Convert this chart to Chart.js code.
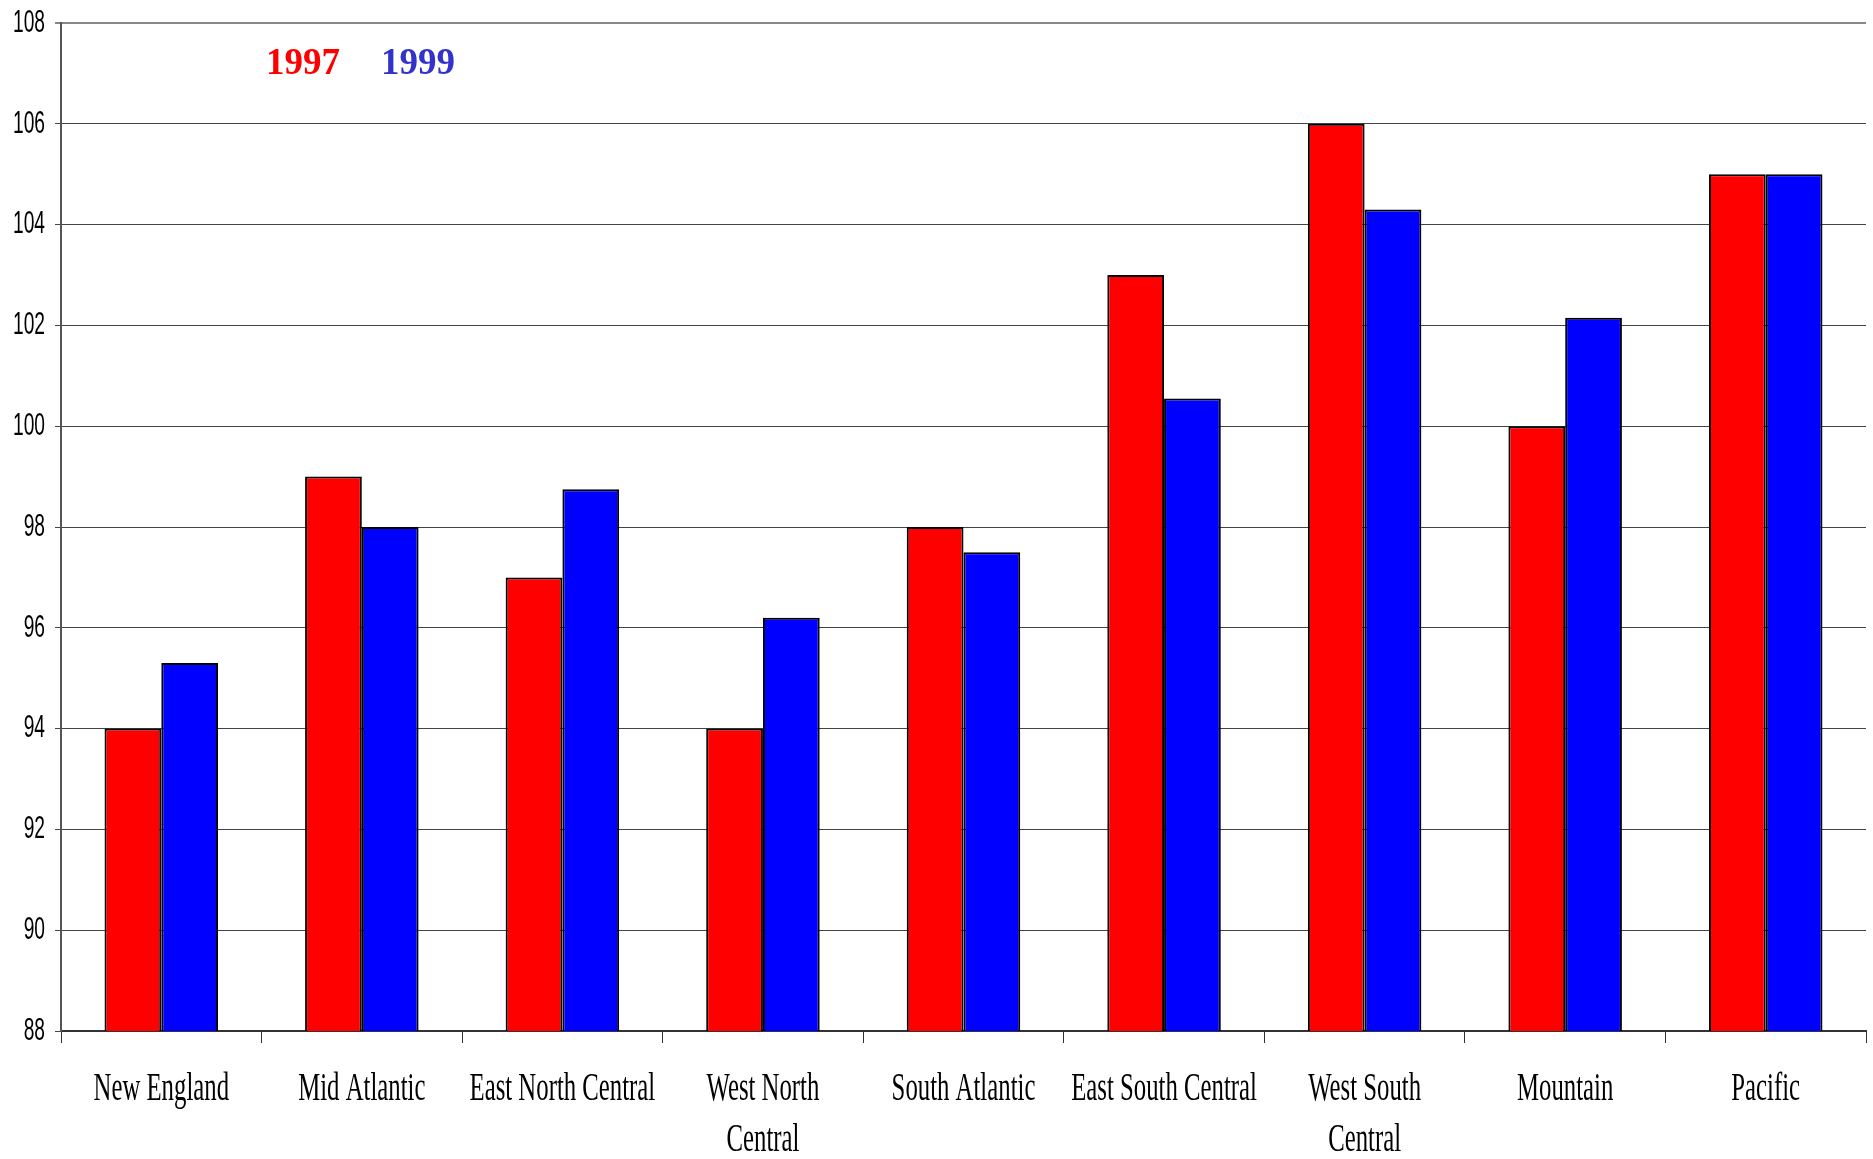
<!DOCTYPE html>
<html>
<head>
<meta charset="utf-8">
<style>
  html, body { margin: 0; padding: 0; background: #fff; }
  #wrap { width: 1873px; height: 1159px; position: relative; }
</style>
<script src="https://cdn.jsdelivr.net/npm/chart.js@4/dist/chart.umd.min.js"></script>
</head>
<body>
<div id="wrap"><canvas id="c" width="1873" height="1159"></canvas></div>
<script>
// Census regions and the index values for each year
const regions = [
  'New England', 'Mid Atlantic', 'East North Central', ['West North', 'Central'],
  'South Atlantic', 'East South Central', ['West South', 'Central'], 'Mountain', 'Pacific'
];
const years = ['1997', '1999'];
const values1997 = [94, 99, 97, 94, 98, 103, 106, 100, 105];
const values1999 = [95.3, 98, 98.75, 96.2, 97.5, 100.55, 104.3, 102.15, 105];
const yTicks = [88, 90, 92, 94, 96, 98, 100, 102, 104, 106, 108];

// Scales whose tick labels are drawn horizontally condensed
function condensed(Base, id) {
  return class extends Base {
    static id = id;
    static defaults = Base.defaults;
    drawLabels(chartArea) {
      const t = this.options.ticks;
      if (!t.display) return;
      const squeeze = t.squeeze || 1;
      const ctx = this.ctx;
      for (const item of this.getLabelItems(chartArea)) {
        const o = item.options;
        ctx.save();
        ctx.translate(o.translation[0], o.translation[1]);
        ctx.rotate(o.rotation || 0);
        ctx.scale(squeeze, 1);
        ctx.font = item.font.string;
        ctx.fillStyle = o.color;
        ctx.textAlign = o.textAlign;
        ctx.textBaseline = o.textBaseline;
        const lines = Array.isArray(item.label) ? item.label : [item.label];
        let y = item.textOffset;
        for (const line of lines) {
          ctx.fillText(String(line), 0, y);
          y += item.font.lineHeight;
        }
        ctx.restore();
      }
    }
  };
}
const CondensedCategory = condensed(Chart.CategoryScale, 'condensedCategory');
const CondensedLinear = condensed(Chart.LinearScale, 'condensedLinear');
Chart.register(CondensedCategory, CondensedLinear);

// Year captions in the upper left of the plot
const yearCaptions = {
  id: 'yearCaptions',
  afterDraw(chart, args, opts) {
    const ctx = chart.ctx;
    const a = chart.chartArea;
    ctx.save();
    ctx.font = opts.font;
    ctx.textBaseline = 'alphabetic';
    ctx.textAlign = 'left';
    chart.data.datasets.forEach((ds, i) => {
      ctx.fillStyle = opts.colors[i];
      ctx.fillText(ds.label, a.left + opts.x[i], a.top + opts.y);
    });
    ctx.restore();
  }
};

new Chart(document.getElementById('c'), {
  type: 'bar',
  data: {
    labels: regions,
    datasets: [
      { label: years[0], data: values1997, backgroundColor: '#ff0000', borderColor: '#000', borderWidth: 2, borderSkipped: false },
      { label: years[1], data: values1999, backgroundColor: '#0000ff', borderColor: '#000', borderWidth: 2, borderSkipped: false }
    ]
  },
  options: {
    responsive: false,
    animation: false,
    events: [],
    layout: { padding: { top: 23, right: 7, left: 0, bottom: 0 } },
    datasets: { bar: { categoryPercentage: 0.566, barPercentage: 1.0 } },
    plugins: {
      legend: { display: false },
      tooltip: { enabled: false },
      yearCaptions: {
        font: 'bold 37px "Liberation Serif", "Times New Roman", serif',
        colors: ['#ff0000', '#3333cc'],
        x: [205, 320],
        y: 51
      }
    },
    scales: {
      x: {
        type: 'condensedCategory',
        offset: true,
        grid: { offset: true, drawOnChartArea: false, drawTicks: true, tickLength: 12, color: '#333', lineWidth: 1 },
        border: { display: true, color: '#333', width: 2 },
        ticks: {
          color: '#000',
          font: { family: '"Liberation Serif", "Times New Roman", serif', size: 39, lineHeight: 1.29 },
          squeeze: 0.635,
          padding: 22,
          autoSkip: false,
          maxRotation: 0,
          minRotation: 0
        },
        afterFit(scale) { scale.height = 128; scale.paddingLeft = 0; scale.paddingRight = 0; }
      },
      y: {
        type: 'condensedLinear',
        min: 88,
        max: 108,
        afterBuildTicks(scale) { scale.ticks = yTicks.map(v => ({ value: v })); },
        grid: { color: (c) => c.tick && c.tick.value === 108 ? '#888' : '#444', lineWidth: (c) => c.tick && c.tick.value === 108 ? 2 : 1, tickLength: 6 },
        border: { display: true, color: '#555', width: 2 },
        ticks: {
          color: '#000',
          font: { family: '"Liberation Sans", Arial, sans-serif', size: 32 },
          squeeze: 0.6,
          padding: 10
        },
        afterFit(scale) { scale.width = 61; scale.paddingTop = 0; scale.paddingBottom = 0; }
      }
    }
  },
  plugins: [yearCaptions]
});
</script>
</body>
</html>
